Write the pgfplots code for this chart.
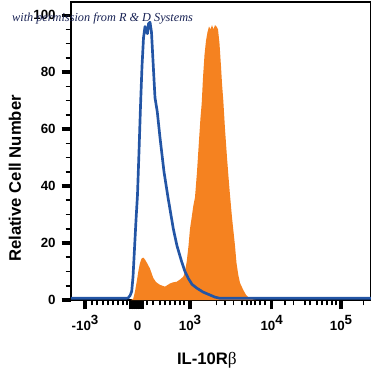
\documentclass[border=0pt]{standalone}
\usepackage{fontspec}
\setmainfont{Liberation Sans}
\newfontfamily\serifwm{Liberation Serif}
\usepackage{pgfplots}
\pgfplotsset{compat=1.18}
\definecolor{fcblue}{RGB}{35,85,165}
\definecolor{fcorange}{RGB}{245,130,32}
\definecolor{wmcolor}{RGB}{25,35,85}
\newcommand{\pw}[2]{#1\raisebox{5pt}{#2}}
\begin{document}
\begin{tikzpicture}
\begin{axis}[
  at={(53.25pt,54pt)}, anchor=south west, scale only axis,
  width=225pt, height=223.5pt,
  xmin=71, xmax=371, ymin=0, ymax=104.6,
  clip mode=individual,
  axis line style={line width=0.8pt, black},
  tick align=outside, xtick pos=bottom, ytick pos=left,
  ytick={0,20,40,60,80,100}, yticklabels={0,20,40,60,80,100},
  minor ytick={5,10,15,25,30,35,45,50,55,65,70,75,85,90,95},
  xtick={85,137.5,190,271.7,341},
  xticklabels={\pw{-10}{3},0,\pw{10}{3},\pw{10}{4},\pw{10}{5}},
  minor xtick={92,97,103,108,113,118,123,127,147,153,160,165,170,175,180,184,216.7,225,233.3,241.7,246.7,250.7,255,260,265,285,293.3,305,310,316.7,321.7,326.7,331.7,336,363.3},
  extra x ticks={131,133.5,135.5,140,142.5}, extra x tick labels={},
  major tick length=7pt, minor tick length=4pt,
  every major tick/.append style={line width=2.4pt, black},
  every minor tick/.append style={line width=1.2pt, black},
  every extra x tick/.append style={line width=1.6pt, black},
  tick label style={font=\bfseries\fontsize{10}{12}\selectfont},
  xticklabel style={anchor=base, yshift=-16pt},
  yticklabel style={xshift=-1pt},
  ylabel={Relative Cell Number},
  ylabel style={at={(axis description cs:-0.187,0.408)}, anchor=center, font=\bfseries\fontsize{12.5}{14}\selectfont},
  xlabel={IL-10R{\serifwm\mdseries\fontsize{13}{14}\selectfont β}},
  xlabel style={at={(axis description cs:0.453,-0.201)}, anchor=center, font=\bfseries\fontsize{12.5}{14}\selectfont},
]
\addplot[fill=fcorange, draw=none] coordinates {
(131,0) (133.3,0.5) (135,3) (137,7) (138.3,10) (140,13) (141.5,14.5) (143.3,14.9) (145,14.2) (147,13) (150,11) (153.3,7.7) (156,6.3) (160,5.3) (165,4.7) (170,5.8) (173,6.2) (176.7,6.4) (180,7.2) (183.3,8.2) (185,10) (186.7,13.4) (188.5,19) (190,25) (191.7,29) (193.3,33) (195,36) (197,45) (199,56) (200.5,64) (201.7,69) (203,78) (204.5,86) (206,91) (207.5,94) (209,96) (210.5,95) (212,96.5) (213.5,95) (215,96.5) (216.5,96) (218,95) (219.5,90) (221,82) (222,76) (223.3,70) (225,60) (227,50) (229,41) (230,36.8) (232,29) (235,19) (236.5,13) (238.3,8.8) (240,6) (243.3,3.5) (246,1.8) (249,0.8) (253,0.2) (256,0)
} \closedcycle;
\addplot[fcblue, line width=2pt, line join=round] coordinates {
(71,0.6) (100,0.6) (126,0.6) (128,0.7) (130,1.5) (131.7,3) (133,8) (134.5,18) (136,28) (137.5,37) (139,52) (140.5,68) (142,82) (143.5,92) (145,96) (146.5,94) (147.5,93.5) (148.5,97) (150,97.5) (151.5,94) (153,84) (155,71) (157.3,66) (160,57) (164,45) (168,36) (173.3,25) (177,19) (181.7,13.4) (185,10) (188.3,7.6) (192,5.5) (196.7,4.2) (203,2.8) (210,1.75) (215,1) (220,0.6) (371,0.6)
};
\node[anchor=base west, inner sep=0pt, text=wmcolor, font=\serifwm\itshape\fontsize{9.2}{11}\selectfont] at (axis description cs:-0.197,0.936) {with permission from R \& D Systems};
\end{axis}
\pgfresetboundingbox
\useasboundingbox (0,0) rectangle (278.25pt,279pt);
\end{tikzpicture}
\end{document}
